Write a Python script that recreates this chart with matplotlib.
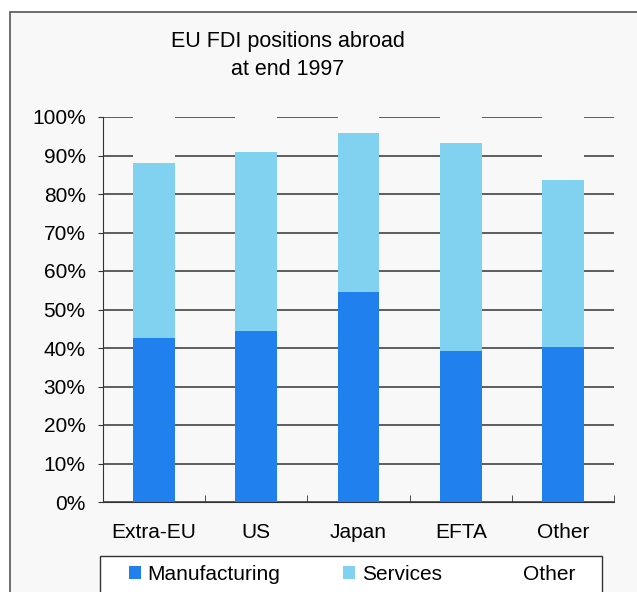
import matplotlib.pyplot as plt
from matplotlib.patches import Rectangle
import numpy as np

plt.rcParams['font.family'] = ['Liberation Sans', 'DejaVu Sans']

regions = ["Extra-EU", "US", "Japan", "EFTA", "Other"]
manufacturing = [42.5, 44.5, 54.5, 39.2, 40.3]
services = [45.5, 46.4, 41.3, 54.0, 43.3]
other = [12.0, 9.1, 4.2, 6.8, 16.4]

bg = "#f8f8f8"
c_man = "#1f80ee"
c_serv = "#80d2f0"

W, H = 637, 592
fig = plt.figure(figsize=(W / 100, H / 100), dpi=100)
fig.patch.set_facecolor("white")
# outer frame
fig.patches.append(Rectangle((10 / W, -0.01), 1.0, 1.01 - 12 / H, transform=fig.transFigure,
                             facecolor=bg, edgecolor="#555555", linewidth=1.2, zorder=-5))

ax = fig.add_axes([103 / W, 1 - 502 / H, 511 / W, 385 / H])
ax.set_facecolor(bg)

x = np.arange(len(regions))
w = 0.41
ax.bar(x, manufacturing, w, color=c_man, label="Manufacturing", zorder=3)
ax.bar(x, services, w, bottom=manufacturing, color=c_serv, label="Services", zorder=3)
bottom2 = [m + s for m, s in zip(manufacturing, services)]
ax.bar(x, other, w, bottom=bottom2, color=bg, label="Other", zorder=3)

ax.set_xlim(-0.5, len(regions) - 0.5)
ax.set_ylim(0, 100)
ax.set_yticks(np.arange(0, 101, 10))
ax.set_yticklabels([f"{v}%" for v in range(0, 101, 10)], fontsize=15)
ax.yaxis.grid(True, color="#333333", linewidth=1.1, zorder=0)
ax.set_axisbelow(True)

ax.set_xticks(x)
ax.set_xticklabels(regions, fontsize=15)
ax.tick_params(axis="x", length=0, pad=15)
ax.set_xticks(np.arange(-0.5, len(regions), 1.0), minor=True)
ax.tick_params(axis="x", which="minor", direction="in", length=5, color="#333333")
ax.tick_params(axis="y", length=3.5, color="#333333", pad=9)

for s in ["top", "right"]:
    ax.spines[s].set_visible(False)
ax.spines["left"].set_color("#333333")
ax.spines["bottom"].set_color("#333333")

fig.text(288 / W, 1 - 55.5 / H, "EU FDI positions abroad\nat end 1997",
         ha="center", va="center", fontsize=15.5, linespacing=1.4)

# legend box
fig.patches.append(Rectangle((100 / W, -0.01), 502 / W, 0.01 + (H - 556) / H,
                             transform=fig.transFigure, facecolor="white",
                             edgecolor="#333333", linewidth=1.0, zorder=1))
h, l = ax.get_legend_handles_labels()
leg = fig.legend(h, l, loc="center", ncol=3,
                 bbox_to_anchor=(352 / W, 1 - 574 / H),
                 fontsize=15, frameon=False,
                 handlelength=0.6, handleheight=0.6, handletextpad=0.3,
                 columnspacing=3.0)
leg.legend_handles[2].set_facecolor("white")
leg.set_zorder(2)

fig.savefig("out.png", dpi=100)
